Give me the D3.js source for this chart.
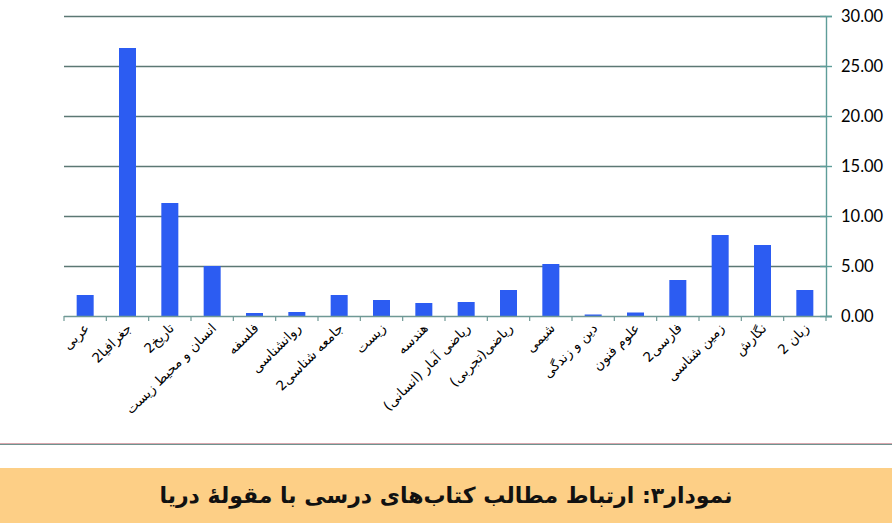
<!DOCTYPE html>
<html><head><meta charset="utf-8">
<script src="https://cdn.jsdelivr.net/npm/d3@7"></script>
<style>
html,body{margin:0;padding:0;background:#fff;}
svg{display:block;}
</style></head>
<body>
<svg id="chart" width="892" height="523"></svg>
<script>
const categories = ["عربی","جغرافیا2","تاریخ2","انسان و محیط زیست","فلسفه","روانشناسی","جامعه شناسی2","زیست","هندسه","ریاضی آمار (انسانی)","ریاضی(تجربی)","شیمی","دین و زندگی","علوم فنون","فارسی2","زمین شناسی","نگارش","زبان 2"];
const values = [2.1,26.8,11.3,5.0,0.3,0.4,2.1,1.6,1.3,1.4,2.6,5.2,0.15,0.35,3.6,8.1,7.1,2.6];
const yTicks = [0,5,10,15,20,25,30];
const title = "نمودار۳: ارتباط مطالب کتاب‌های درسی با مقولهٔ دریا";

const svg = d3.select("#chart");
const mLeft = 64, mRight = 826, mTop = 16, mBottom = 316;

const xb = d3.scaleBand().domain(categories).range([mLeft, mRight]);
const y = d3.scaleLinear().domain([0, 30]).range([mBottom, mTop]);

// gridlines
svg.append("g").selectAll("line").data(yTicks.filter(d => d > 0)).join("line")
  .attr("x1", mLeft).attr("x2", mRight)
  .attr("y1", d => y(d) + 0.5).attr("y2", d => y(d) + 0.5)
  .attr("stroke", "#5c7874").attr("stroke-width", 1.7);

// bars
svg.append("g").selectAll("rect").data(values).join("rect")
  .attr("x", (d, i) => xb(categories[i]) + xb.bandwidth() / 2 - 8.5)
  .attr("width", 17)
  .attr("y", d => y(d))
  .attr("height", d => mBottom - y(d))
  .attr("fill", "#2c5cf2");

// x axis
const xAxis = svg.append("g");
xAxis.append("line").attr("x1", mLeft).attr("x2", mRight + 6)
  .attr("y1", mBottom + 0.5).attr("y2", mBottom + 0.5)
  .attr("stroke", "#6f9995").attr("stroke-width", 1.4);
const tickPos = categories.map(c => xb(c)).concat([mRight]);
xAxis.selectAll(".xt").data(tickPos).join("line")
  .attr("x1", d => d).attr("x2", d => d)
  .attr("y1", mBottom).attr("y2", mBottom + 5)
  .attr("stroke", "#6f9995").attr("stroke-width", 1.2);

// x labels
xAxis.selectAll(".xl").data(categories).join("text")
  .attr("transform", d => `translate(${xb(d) + xb.bandwidth() / 2 + 5},${mBottom + 13}) rotate(-45)`)
  .attr("text-anchor", "end")
  .attr("font-family", "DejaVu Sans, sans-serif")
  .attr("font-size", 13.5)
  .attr("fill", "#000")
  .text(d => d);

// right y axis
const yAxis = d3.axisRight(y).tickValues(yTicks).tickFormat(d3.format(".2f")).tickSize(6).tickPadding(9);
const ya = svg.append("g").attr("transform", `translate(${mRight},0)`).call(yAxis);
ya.select(".domain").attr("stroke", "#5e9d99").attr("stroke-width", 1.4);
ya.selectAll(".tick line").attr("stroke", "#5e9d99").attr("stroke-width", 1.4).attr("x1", -6).attr("x2", 6);
ya.selectAll(".tick text").attr("font-family", "Lato, sans-serif").attr("font-size", 16.5).attr("fill", "#000");

// separator line
svg.append("line").attr("x1", 0).attr("x2", 892).attr("y1", 443.5).attr("y2", 443.5)
  .attr("stroke", "#d9a6ad").attr("stroke-width", 1);
svg.append("line").attr("x1", 0).attr("x2", 892).attr("y1", 444.5).attr("y2", 444.5)
  .attr("stroke", "#6f9390").attr("stroke-width", 1.2);

// title band
svg.append("rect").attr("x", 0).attr("y", 468).attr("width", 892).attr("height", 55).attr("fill", "#fdcf86");
svg.append("text").attr("x", 446).attr("y", 503)
  .attr("text-anchor", "middle").attr("direction", "rtl")
  .attr("font-family", "DejaVu Sans, sans-serif").attr("font-weight", "bold")
  .attr("font-size", 22).attr("fill", "#111")
  .text(title);
</script>
</body></html>
